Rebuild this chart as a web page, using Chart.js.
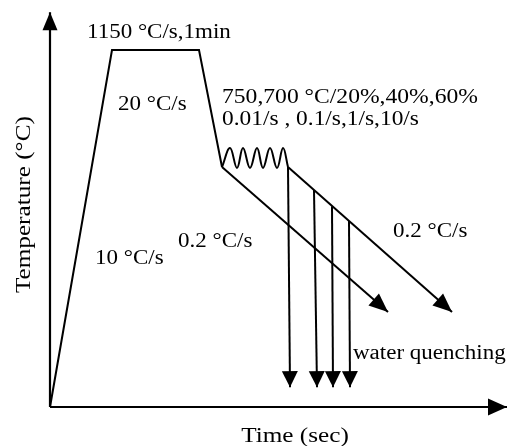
<!DOCTYPE html>
<html><head><meta charset="utf-8">
<script src="https://cdn.jsdelivr.net/npm/chart.js@4/dist/chart.umd.min.js"></script>
<style>html,body{margin:0;padding:0;background:#fff;}canvas{display:block;}</style>
</head><body>
<canvas id="c" width="516" height="446"></canvas>
<script>
// ---- Schematic data: time (arbitrary units) / temperature (°C, schematic) ----
const axisTimeEnd = 457;            // tip of the time-axis arrow
const axisTempEnd = 1272;           // tip of the temperature-axis arrow
const heatTime = [0, 62, 149, 172];
const heatTemp = [0, 1150, 1150, 773];
const deformTime = [172, 180, 187, 193, 200, 207, 213, 220, 227, 233, 238];
const deformTemp = [773, 834, 770, 834, 770, 834, 770, 834, 770, 834, 773];
const slowCoolATime = [172, 338];
const slowCoolATemp = [773, 306];
const slowCoolBTime = [238, 402];
const slowCoolBTemp = [773, 306];
const quenchStartTime = [238, 264, 282, 299];
const quenchStartTemp = [773, 699, 647, 599];
const quenchEndTime = [240, 267, 283, 300];
const quenchEndTemp = [64, 64, 64, 64];
const labelTexts = [
  '1150 °C/s,1min',
  '20 °C/s',
  '750,700 °C/20%,40%,60%',
  '0.01/s , 0.1/s,1/s,10/s',
  '0.2 °C/s',
  '0.2 °C/s',
  '10 °C/s',
  'water quenching'
];
const xTitle = 'Time (sec)';
const yTitle = 'Temperature (°C)';

// ---- helpers ----
const pts = (ts, Ts) => ts.map((t, i) => ({x: t, y: Ts[i]}));
const black = '#000';
const lineDs = (data, extra) => Object.assign({
  data, showLine: true, borderColor: black, backgroundColor: black,
  borderWidth: 2, pointRadius: 0, tension: 0, fill: false
}, extra || {});

const datasets = [
  lineDs(pts([0, 0], [0, axisTempEnd]), {borderWidth: 2.2, arrow: {length: 18, width: 15}}),
  lineDs(pts([0, axisTimeEnd], [0, 0]), {borderWidth: 2.2, arrow: {length: 19, width: 17}}),
  lineDs(pts(heatTime, heatTemp)),
  lineDs(pts(deformTime, deformTemp), {tension: 0.4}),
  lineDs(pts(slowCoolATime, slowCoolATemp), {arrow: {length: 19, width: 16}}),
  lineDs(pts(slowCoolBTime, slowCoolBTemp), {arrow: {length: 19, width: 16}})
];
quenchStartTime.forEach((t, i) => {
  datasets.push(lineDs(pts([t, quenchEndTime[i]], [quenchStartTemp[i], quenchEndTemp[i]]),
    {arrow: {length: 16, width: 16}}));
});

// ---- plugins ----
const arrowPlugin = {
  id: 'arrowHeads',
  afterDatasetsDraw(chart) {
    const ctx = chart.ctx;
    chart.data.datasets.forEach((ds, i) => {
      if (!ds.arrow) return;
      const p = chart.getDatasetMeta(i).data;
      const a = p[p.length - 2], b = p[p.length - 1];
      const ang = Math.atan2(b.y - a.y, b.x - a.x);
      ctx.save();
      ctx.translate(b.x, b.y);
      ctx.rotate(ang);
      ctx.beginPath();
      ctx.moveTo(0, 0);
      ctx.lineTo(-ds.arrow.length, ds.arrow.width / 2);
      ctx.lineTo(-ds.arrow.length, -ds.arrow.width / 2);
      ctx.closePath();
      ctx.fillStyle = ds.borderColor;
      ctx.fill();
      ctx.restore();
    });
  }
};

const textPlugin = {
  id: 'schematicText',
  afterDatasetsDraw(chart, args, opts) {
    const ctx = chart.ctx;
    const xs = chart.scales.x, ys = chart.scales.y;
    opts.items.forEach(it => {
      const px = xs.getPixelForValue(it.t), py = ys.getPixelForValue(it.T);
      ctx.save();
      ctx.font = it.font || opts.font;
      ctx.fillStyle = '#000';
      ctx.textBaseline = 'alphabetic';
      ctx.textAlign = it.align || 'left';
      ctx.translate(px, py);
      if (it.rotate) ctx.rotate(it.rotate);
      ctx.scale(it.stretch || opts.stretch, 1);
      ctx.fillText(it.text, 0, 0);
      ctx.restore();
    });
  }
};

const serif = '"Liberation Serif", "Times New Roman", serif';

new Chart(document.getElementById('c'), {
  type: 'scatter',
  data: {datasets},
  options: {
    responsive: false,
    animation: false,
    layout: {padding: 0},
    scales: {
      x: {type: 'linear', min: -50, max: 466, display: false},
      y: {type: 'linear', min: -125.6, max: 1311.1, display: false}
    },
    plugins: {
      legend: {display: false},
      tooltip: {enabled: false},
      schematicText: {
        font: '20px ' + serif,
        stretch: 1.15,
        items: [
          {text: labelTexts[0], t: 37, T: 1189},
          {text: labelTexts[1], t: 68, T: 957},
          {text: labelTexts[2], t: 172, T: 979, stretch: 1.18},
          {text: labelTexts[3], t: 172, T: 908, stretch: 1.17},
          {text: labelTexts[4], t: 343, T: 548},
          {text: labelTexts[5], t: 128, T: 515},
          {text: labelTexts[6], t: 45, T: 461},
          {text: labelTexts[7], t: 303, T: 155},
          {text: xTitle, t: 245, T: -113, align: 'center', font: '21px ' + serif, stretch: 1.2},
          {text: yTitle, t: -20, T: 367, rotate: -Math.PI / 2, font: '21px ' + serif, stretch: 1.2}
        ]
      }
    }
  },
  plugins: [arrowPlugin, textPlugin]
});
</script>
</body></html>
